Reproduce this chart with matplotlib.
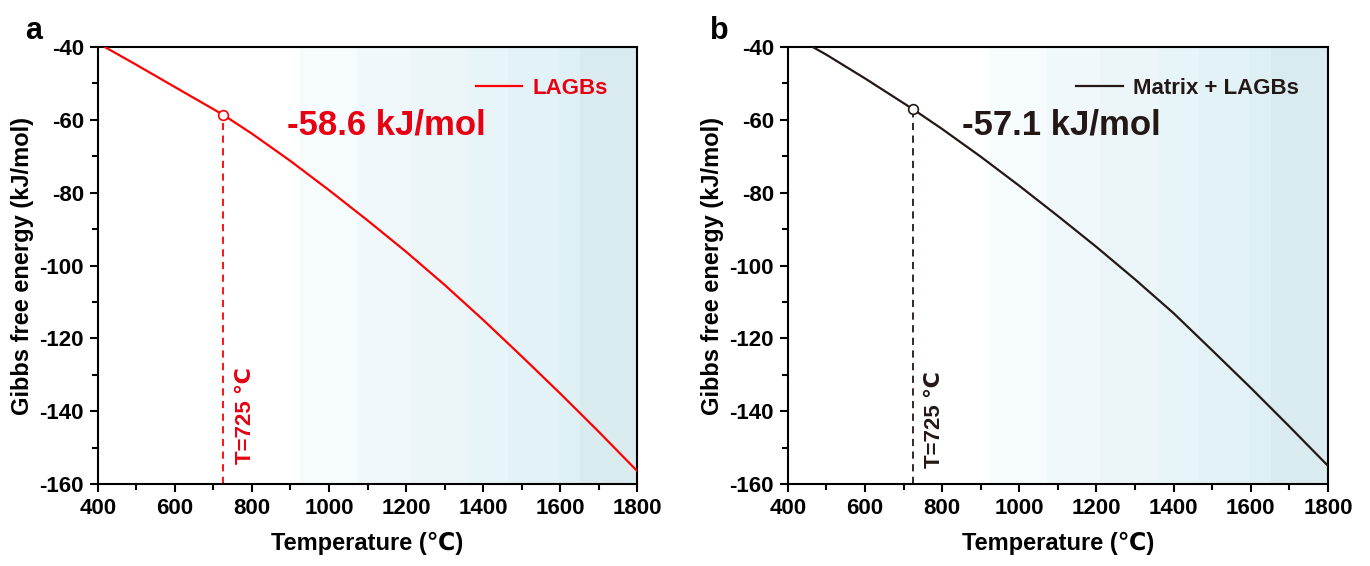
import numpy as np
import matplotlib.pyplot as plt
from matplotlib.ticker import MultipleLocator

plt.rcParams['font.family'] = ['Liberation Sans', 'DejaVu Sans']
plt.rcParams['font.weight'] = 'bold'
plt.rcParams['axes.labelweight'] = 'bold'
plt.rcParams['axes.unicode_minus'] = False

# Gibbs free energy vs temperature
temp_a = [418, 500, 600, 725, 800, 900, 1000, 1100, 1200, 1300, 1400, 1500, 1600, 1700, 1800]
gibbs_a = [-40.0, -44.9, -51.0, -58.6, -63.8, -71.3, -79.3, -87.6, -96.2, -105.3, -114.9, -124.9, -135.1, -145.6, -156.4]

temp_b = [465, 500, 600, 725, 800, 900, 1000, 1100, 1200, 1300, 1400, 1500, 1600, 1700, 1800]
gibbs_b = [-40.0, -42.1, -48.6, -57.1, -62.5, -70.1, -78.1, -86.4, -94.9, -103.8, -113.1, -123.3, -133.6, -144.2, -155.0]

t_mark = 725
g_mark_a = -58.6
g_mark_b = -57.1

# background shading bands (temperature edges)
band_edges = [925, 1073, 1210, 1361, 1465, 1595, 1652, 1800]
band_colors = ['#f6fcfe', '#f0f8fb', '#ecf6f9', '#e7f5f9', '#e2f2f6', '#dff0f4', '#d9ebef']

red_line = '#ff0000'
red_text = '#e60012'
dark = '#231815'

fig = plt.figure(figsize=(13.7, 5.66), dpi=100)
ax_a = fig.add_axes([0.0715, 0.1449, 0.3935, 0.772])
ax_b = fig.add_axes([0.575, 0.1449, 0.3943, 0.772])


def style_axis(ax):
    for i in range(len(band_colors)):
        ax.axvspan(band_edges[i], band_edges[i + 1], color=band_colors[i], lw=0, zorder=0)
    ax.set_xlim(400, 1800)
    ax.set_ylim(-160, -40)
    ax.xaxis.set_major_locator(MultipleLocator(200))
    ax.xaxis.set_minor_locator(MultipleLocator(100))
    ax.yaxis.set_major_locator(MultipleLocator(20))
    ax.yaxis.set_minor_locator(MultipleLocator(10))
    ax.tick_params(which='major', direction='out', length=6, width=1.5, labelsize=16, pad=4)
    ax.tick_params(which='minor', direction='out', length=4, width=1.5)
    for lbl in ax.get_xticklabels() + ax.get_yticklabels():
        lbl.set_fontweight('bold')
    for sp in ax.spines.values():
        sp.set_linewidth(1.5)
    ax.set_xlabel('Temperature (℃)', fontsize=17, labelpad=9)
    ax.set_ylabel('Gibbs free energy (kJ/mol)', fontsize=17, labelpad=4)


def add_legend(ax, color):
    leg = ax.legend(loc='upper right', frameon=False, fontsize=16, handlelength=2.1,
                    handletextpad=0.45, borderaxespad=0.8, bbox_to_anchor=(0.995, 0.99))
    for t in leg.get_texts():
        t.set_color(color)
        t.set_fontweight('bold')


# panel a
style_axis(ax_a)
ax_a.plot(temp_a, gibbs_a, color=red_line, lw=1.6, label='LAGBs', zorder=3)
ax_a.plot([t_mark, t_mark], [-160, g_mark_a], color=red_line, lw=1.3, ls=(0, (4, 3)), zorder=2)
ax_a.plot(t_mark, g_mark_a, 'o', ms=7, mfc='white', mec=red_line, mew=1.2, zorder=4)
ax_a.text(782, -154.5, 'T=725 ℃', rotation=90, color=red_text, fontsize=16,
          fontweight='bold', ha='center', va='bottom')
ax_a.text(890, -61.5, f'{g_mark_a} kJ/mol', color=red_text, fontsize=25,
          fontweight='bold', ha='left', va='center')
add_legend(ax_a, red_text)
fig.text(0.018, 0.945, 'a', fontsize=22, fontweight='bold', va='center')

# panel b
style_axis(ax_b)
ax_b.plot(temp_b, gibbs_b, color=dark, lw=1.6, label='Matrix + LAGBs', zorder=3)
ax_b.plot([t_mark, t_mark], [-160, g_mark_b], color=dark, lw=1.3, ls=(0, (4, 3)), zorder=2)
ax_b.plot(t_mark, g_mark_b, 'o', ms=7, mfc='white', mec=dark, mew=1.2, zorder=4)
ax_b.text(781, -155.5, 'T=725 ℃', rotation=90, color=dark, fontsize=16,
          fontweight='bold', ha='center', va='bottom')
ax_b.text(851, -61.5, f'{g_mark_b} kJ/mol', color=dark, fontsize=25,
          fontweight='bold', ha='left', va='center')
add_legend(ax_b, dark)
fig.text(0.518, 0.945, 'b', fontsize=22, fontweight='bold', va='center')

fig.savefig('out.png', dpi=100)
